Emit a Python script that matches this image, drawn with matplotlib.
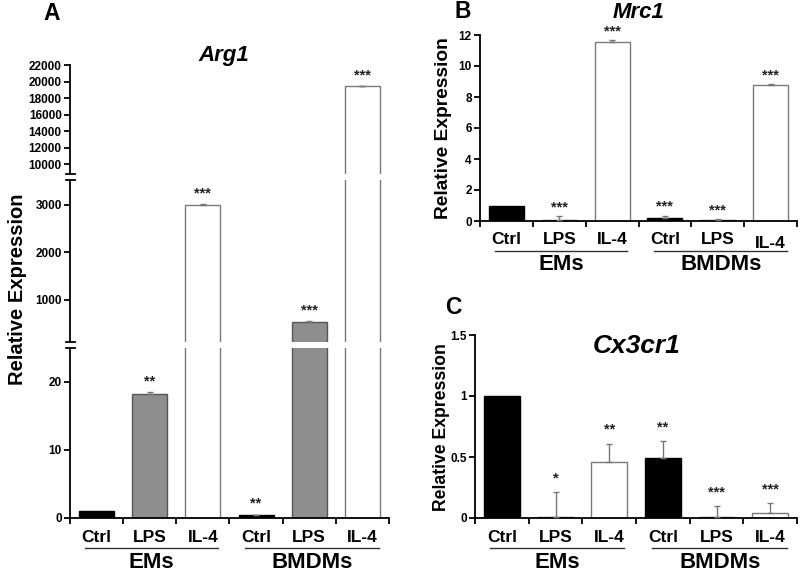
import matplotlib
matplotlib.use('Agg')
import matplotlib.pyplot as plt
from matplotlib import transforms

plt.rcParams['font.family'] = ['Liberation Sans', 'DejaVu Sans']
plt.rcParams['font.weight'] = 'bold'
plt.rcParams['axes.labelweight'] = 'bold'

# data
conditions = ['Ctrl', 'LPS', 'IL-4', 'Ctrl', 'LPS', 'IL-4']
groups = ['EMs', 'BMDMs']
bar_colors = ['black', '#8e8e8e', 'white', 'black', '#8e8e8e', 'white']
edge_colors = ['black', '#555555', '#7a7a7a', 'black', '#555555', '#7a7a7a']

arg1 = [1, 18.2, 3000, 0.4, 540, 19400]
arg1_err = [0, 0.3, 6, 0.1, 8, 40]
arg1_sig = ['', '**', '***', '**', '***', '***']

mrc1 = [1, 0.05, 11.55, 0.2, 0.05, 8.75]
mrc1_err = [0, 0.25, 0.1, 0.15, 0.08, 0.06]
mrc1_sig = ['', '***', '***', '***', '***', '***']

cx3cr1 = [1, 0.012, 0.455, 0.49, 0.008, 0.04]
cx3cr1_err = [0, 0.2, 0.155, 0.14, 0.09, 0.08]
cx3cr1_sig = ['', '*', '**', '**', '***', '***']

W, H = 800, 572
fig = plt.figure(figsize=(8, 5.72), dpi=100)
x = list(range(len(conditions)))


def box(x0, y0, x1, y1):
    # pixel box (from top-left) -> figure fraction
    return [x0 / W, 1 - y1 / H, (x1 - x0) / W, (y1 - y0) / H]


def style(ax, ticks, labels=None, xaxis=True):
    for s in ['top', 'right']:
        ax.spines[s].set_visible(False)
    ax.spines['left'].set_linewidth(1.3)
    ax.set_xlim(-0.5, 5.5)
    ax.set_yticks(ticks)
    if labels is not None:
        ax.set_yticklabels(labels)
    ax.tick_params(axis='y', length=4, width=1.3, labelsize=8.5, pad=2)
    for t in ax.get_yticklabels():
        t.set_fontweight('bold')
    if xaxis:
        ax.spines['bottom'].set_linewidth(1.3)
        ax.set_xticks([k - 0.5 for k in range(7)])
        ax.set_xticklabels([])
        ax.tick_params(axis='x', length=4, width=1.3)
    else:
        ax.spines['bottom'].set_visible(False)
        ax.set_xticks([])


def bars(ax, vals, errs):
    ax.bar(x, vals, width=0.66, color=bar_colors, edgecolor=edge_colors,
           linewidth=1, zorder=2)
    xe = [i for i in x if errs[i] > 0]
    ax.errorbar(xe, [vals[i] for i in xe], yerr=[[0] * len(xe), [errs[i] for i in xe]],
                fmt='none', ecolor='#777777', elinewidth=1, capsize=2.5,
                capthick=1, zorder=3)


def stars(ax, i, v, s, off):
    if s:
        ax.annotate(s, xy=(i, v), xytext=(0, off), textcoords='offset pixels',
                    ha='center', va='center', fontsize=10.5, color='#222222',
                    fontweight='bold', annotation_clip=False)


def xlabels(ax, dy=None):
    dy = dy or [0] * 6
    for i, c in enumerate(conditions):
        ax.annotate(c, xy=(i, 0), xycoords=('data', 'axes fraction'),
                    xytext=(0, -19 - dy[i]), textcoords='offset pixels',
                    ha='center', va='center', fontsize=12.5)
    trans = transforms.blended_transform_factory(ax.transData, ax.transAxes) + \
        transforms.ScaledTranslation(0, -30 / 100, fig.dpi_scale_trans)
    for (x0, x1), g in zip([(-0.22, 2.28), (2.8, 5.32)], groups):
        ax.plot([x0, x1], [0, 0], color='#333333', lw=1, transform=trans, clip_on=False)
        ax.annotate(g, xy=((x0 + x1) / 2, 0), xycoords=('data', 'axes fraction'),
                    xytext=(0, -44), textcoords='offset pixels',
                    ha='center', va='center', fontsize=16)


def brk(ax, y):
    ax.plot([-0.013, 0.015], [y, y], color='black', lw=1.3,
            transform=ax.transAxes, clip_on=False)


# Panel A: Arg1 with broken axis
ax_top = fig.add_axes(box(70, 65, 389, 174))
ax_mid = fig.add_axes(box(70, 180, 389, 342))
ax_low = fig.add_axes(box(70, 348, 389, 518))
ax_top.set_ylim(8800, 22000)
ax_mid.set_ylim(110, 3520)
ax_low.set_ylim(0, 25)
style(ax_top, range(10000, 22001, 2000), xaxis=False)
style(ax_mid, [1000, 2000, 3000], xaxis=False)
style(ax_low, [0, 10, 20])
for ax in (ax_top, ax_mid, ax_low):
    bars(ax, arg1, arg1_err)
for i in x:
    top = arg1[i] + arg1_err[i]
    ax = ax_top if top > 8800 else (ax_mid if top > 110 else ax_low)
    stars(ax, i, top, arg1_sig[i], 11)
brk(ax_top, 0)
brk(ax_mid, 1)
brk(ax_mid, 0)
brk(ax_low, 1)
xlabels(ax_low)
fig.text(224 / W, 1 - 55 / H, 'Arg1', ha='center', va='center', fontsize=16, style='italic')
fig.text(52 / W, 1 - 13 / H, 'A', ha='center', va='center', fontsize=16.5)
fig.text(18 / W, 1 - 289 / H, 'Relative Expression', rotation=90,
         ha='center', va='center', fontsize=14.5)

# Panel B: Mrc1
ax_b = fig.add_axes(box(480, 35, 797, 221))
ax_b.set_ylim(0, 12)
style(ax_b, range(0, 13, 2))
bars(ax_b, mrc1, mrc1_err)
for i in x:
    stars(ax_b, i, mrc1[i] + mrc1_err[i], mrc1_sig[i], 9)
xlabels(ax_b, dy=[0, 0, 0, 0, 0, 4])
fig.text(443 / W, 1 - 128 / H, 'Relative Expression', rotation=90,
         ha='center', va='center', fontsize=13.8)
fig.text(639 / W, 1 - 12 / H, 'Mrc1', ha='center', va='center', fontsize=16, style='italic')
fig.text(463 / W, 1 - 12 / H, 'B', ha='center', va='center', fontsize=16.5)

# Panel C: Cx3cr1
ax_c = fig.add_axes(box(475, 335, 797, 518))
ax_c.set_ylim(0, 1.5)
style(ax_c, [0, 0.5, 1, 1.5], ['0', '0.5', '1', '1.5'])
bars(ax_c, cx3cr1, cx3cr1_err)
for i in x:
    stars(ax_c, i, cx3cr1[i] + cx3cr1_err[i], cx3cr1_sig[i], 14)
xlabels(ax_c)
fig.text(442 / W, 1 - 427 / H, 'Relative Expression', rotation=90,
         ha='center', va='center', fontsize=12.7)
fig.text(637 / W, 1 - 346 / H, 'Cx3cr1', ha='center', va='center', fontsize=19, style='italic')
fig.text(453 / W, 1 - 307 / H, 'C', ha='center', va='center', fontsize=16.5)

fig.savefig('out.png', dpi=100)
